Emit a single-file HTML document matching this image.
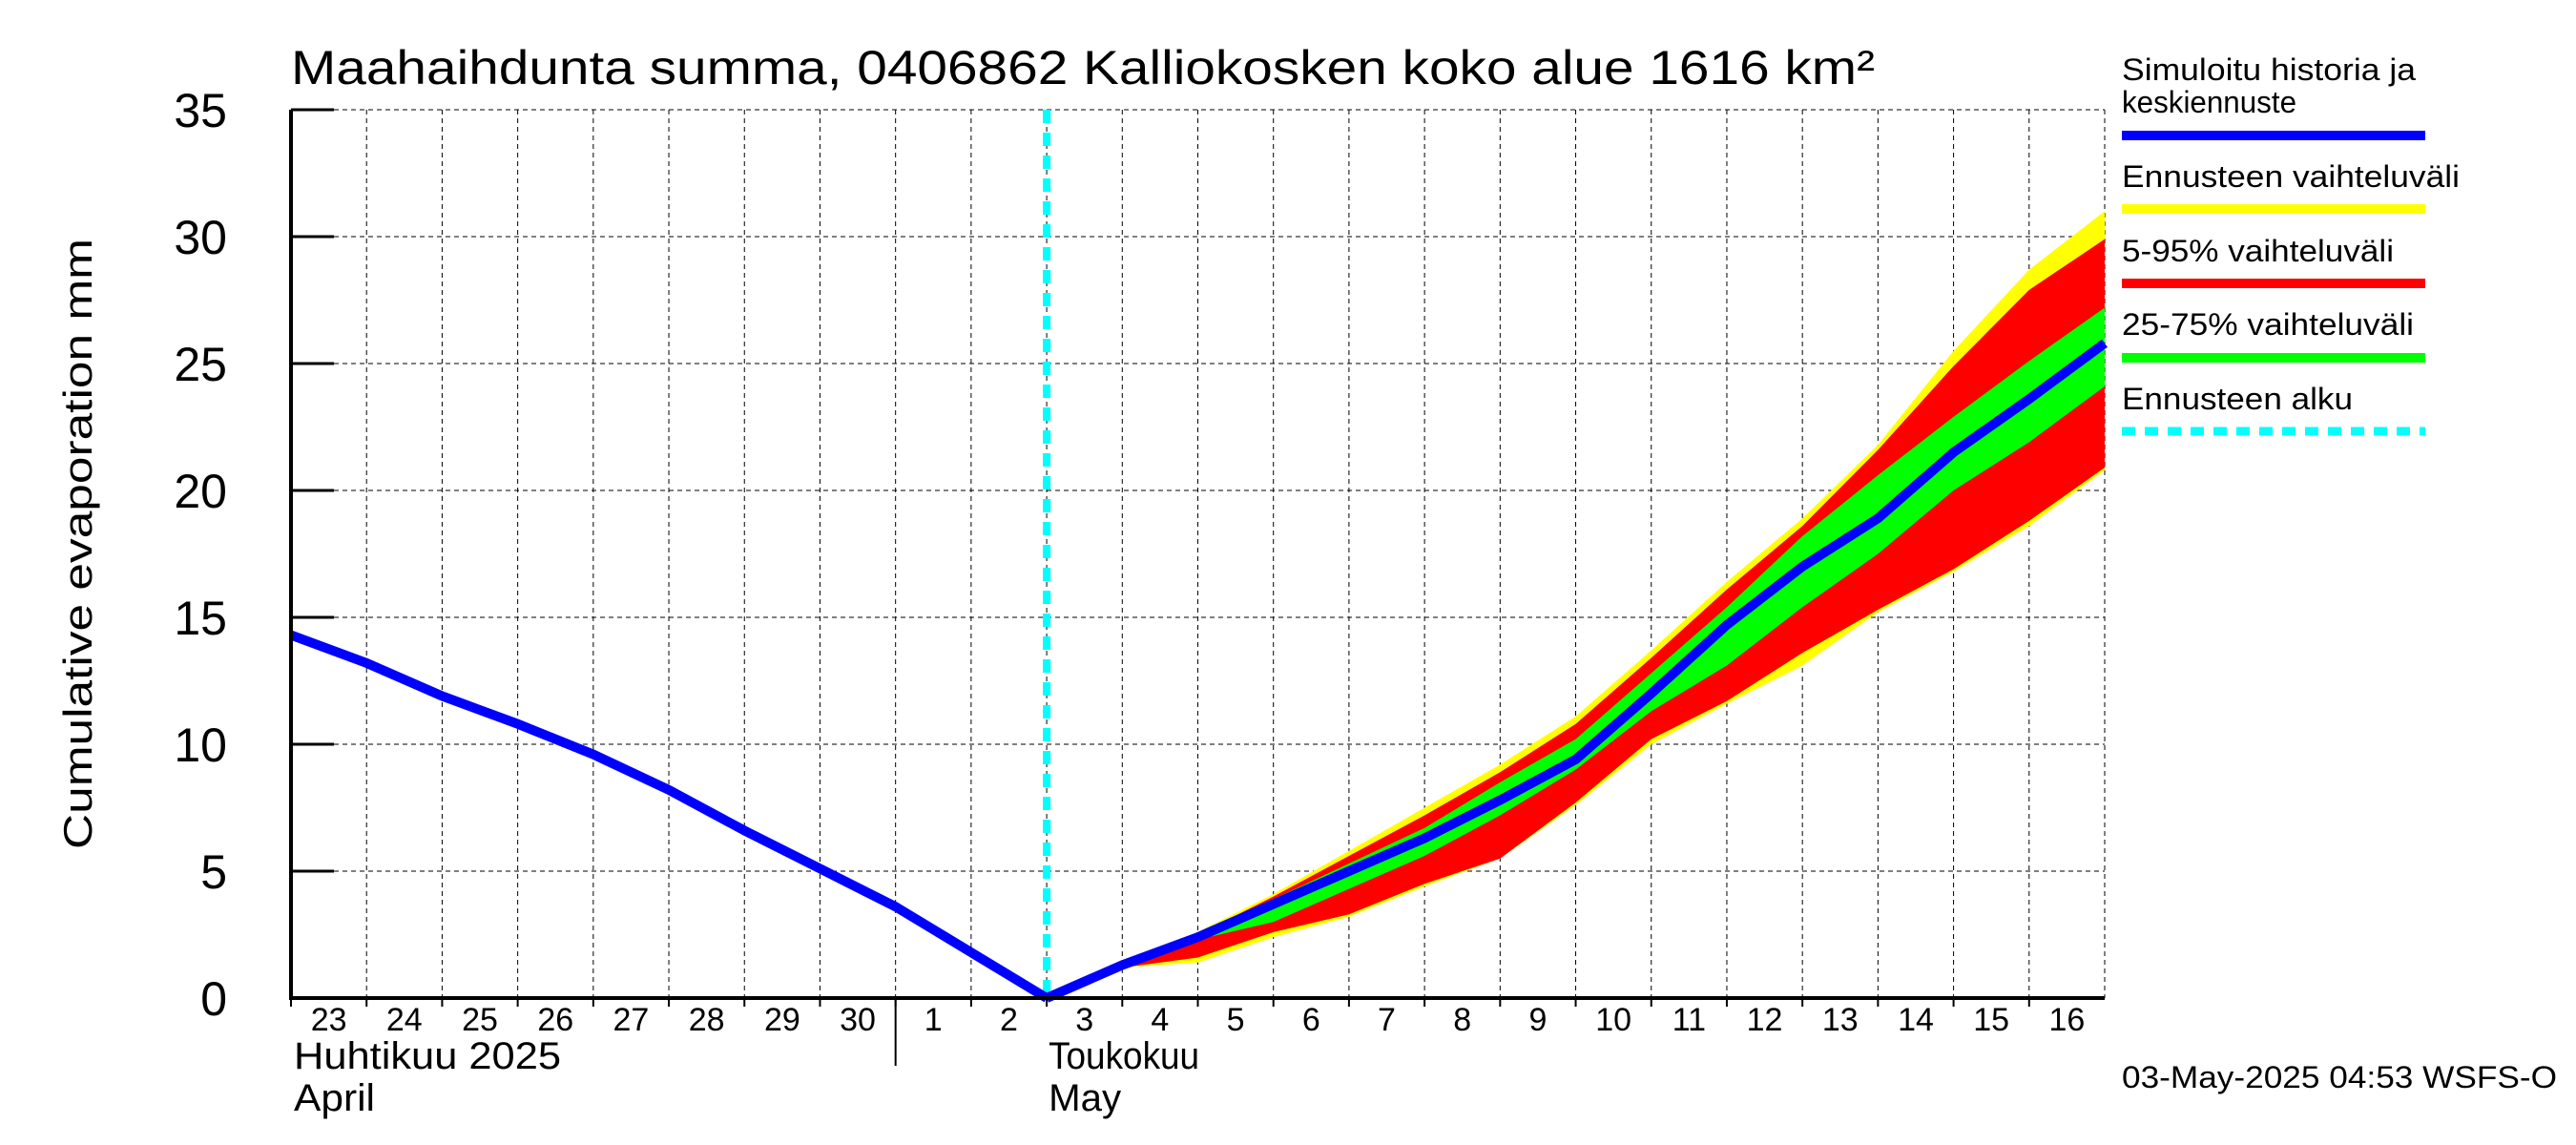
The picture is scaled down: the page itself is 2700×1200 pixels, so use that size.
<!DOCTYPE html>
<html><head><meta charset="utf-8"><style>html,body{margin:0;padding:0;background:#fff}svg{display:block}text{font-family:"Liberation Sans",sans-serif}</style></head>
<body>
<svg id="chart" width="2700" height="1200" viewBox="0 0 2700 1200" xmlns="http://www.w3.org/2000/svg">
<rect width="2700" height="1200" fill="#fff"/>
<text x="305" y="88" font-size="50" textLength="1660" lengthAdjust="spacingAndGlyphs">Maahaihdunta summa, 0406862 Kalliokosken koko alue 1616 km²</text>
<text transform="translate(96,570) rotate(-90)" text-anchor="middle" font-size="42" textLength="640" lengthAdjust="spacingAndGlyphs">Cumulative evaporation   mm</text>
<g id="grid"></g><g id="bands"></g><g id="lines"></g><g id="axes"></g>
<g font-size="32">
<text x="2224" y="84" textLength="308" lengthAdjust="spacingAndGlyphs">Simuloitu historia ja</text>
<text x="2224" y="118" textLength="183" lengthAdjust="spacingAndGlyphs">keskiennuste</text>
<rect x="2224" y="137" width="318" height="10" fill="#0000ff"/>
<text x="2224" y="196" textLength="354" lengthAdjust="spacingAndGlyphs">Ennusteen vaihteluväli</text>
<rect x="2224" y="214" width="318" height="10" fill="#ffff00"/>
<text x="2224" y="274" textLength="285" lengthAdjust="spacingAndGlyphs">5-95% vaihteluväli</text>
<rect x="2224" y="292" width="318" height="10" fill="#ff0000"/>
<text x="2224" y="351" textLength="306" lengthAdjust="spacingAndGlyphs">25-75% vaihteluväli</text>
<rect x="2224" y="370" width="318" height="10" fill="#00ff00"/>
<text x="2224" y="429" textLength="242" lengthAdjust="spacingAndGlyphs">Ennusteen alku</text>
<line x1="2224" y1="452" x2="2542" y2="452" stroke="#00ffff" stroke-width="9" stroke-dasharray="14,10"/>
</g>
<text x="2224" y="1140" font-size="32" textLength="456" lengthAdjust="spacingAndGlyphs">03-May-2025 04:53 WSFS-O</text>
</svg>
<script>
const histDays=[0,1,2,3,4,5,6,7,8,9,10];
const histVals=[14.3,13.2,11.9,10.8,9.6,8.2,6.6,5.1,3.6,1.8,0];
const fcDays=[10,11,12,13,14,15,16,17,18,19,20,21,22,23,24];
const fcMedian=[0,1.3,2.4,3.7,5.0,6.3,7.8,9.4,12.0,14.7,17.0,18.9,21.5,23.6,25.8];
const yellowHi=[0,1.3,2.6,4.1,5.8,7.5,9.2,11.1,13.7,16.4,18.9,21.8,25.5,28.7,31.0];
const yellowLo=[0,1.2,1.4,2.4,3.2,4.4,5.5,7.6,10.0,11.6,13.1,15.2,16.8,18.6,20.8];
const redHi=[0,1.3,2.5,4.0,5.6,7.2,8.9,10.8,13.4,16.1,18.6,21.6,24.9,27.9,29.9];
const redLo=[0,1.2,1.6,2.6,3.3,4.5,5.5,7.7,10.2,11.7,13.6,15.3,16.9,18.8,20.9];
const greenHi=[0,1.3,2.45,3.9,5.3,6.7,8.5,10.2,12.8,15.4,18.2,20.6,22.9,25.1,27.2];
const greenLo=[0,1.3,2.3,3.0,4.3,5.6,7.2,9.0,11.3,13.1,15.4,17.5,20.0,21.9,24.1];
const yTicks=[0,5,10,15,20,25,30,35];
const dayLabels=["23","24","25","26","27","28","29","30","1","2","3","4","5","6","7","8","9","10","11","12","13","14","15","16"];
const forecastStartDay=10;
const X0=305,X1=2206,NDAYS=24,Y0=1046,Y1=115,YMAX=35;
const xs=d=>X0+(X1-X0)*d/NDAYS;
const ys=v=>Y0-(Y0-Y1)*v/YMAX;
const NS="http://www.w3.org/2000/svg";
function mk(tag,attrs,parent){const e=document.createElementNS(NS,tag);for(const k in attrs)e.setAttribute(k,attrs[k]);parent.appendChild(e);return e;}
const grid=document.getElementById('grid'),bands=document.getElementById('bands'),lines=document.getElementById('lines'),axes=document.getElementById('axes');
for(let d=1;d<=NDAYS;d++){const l=mk('line',{x1:xs(d),y1:Y1,x2:xs(d),y2:Y0,stroke:'#000','stroke-width':1,'stroke-dasharray':'5,4'},grid);

}
yTicks.forEach(v=>{if(v>0){const l=mk('line',{x1:X0,y1:ys(v),x2:X1,y2:ys(v),stroke:'#000','stroke-width':1,'stroke-dasharray':'5,4'},grid);

}
const t=mk('line',{x1:X0,y1:ys(v),x2:X0+45,y2:ys(v),stroke:'#000','stroke-width':3},axes);


const lb=mk('text',{x:238,y:ys(v)+18,'text-anchor':'end','font-size':50},axes);lb.textContent=v;

});
function band(hi,lo,color,name){let p=fcDays.map((d,i)=>xs(d)+','+ys(hi[i]));for(let i=fcDays.length-1;i>=0;i--)p.push(xs(fcDays[i])+','+ys(lo[i]));
const e=mk('polygon',{points:p.join(' '),fill:color},bands);

}
band(yellowHi,yellowLo,'#ffff00','band-forecast-range');
band(redHi,redLo,'#ff0000','band-5-95');
band(greenHi,greenLo,'#00ff00','band-25-75');
const cy=mk('line',{x1:xs(forecastStartDay),y1:Y1,x2:xs(forecastStartDay),y2:Y0,stroke:'#00ffff','stroke-width':8,'stroke-dasharray':'14,10'},lines);


const h=mk('polyline',{points:histDays.map((d,i)=>xs(d)+','+ys(histVals[i])).join(' '),fill:'none',stroke:'#0000ff','stroke-width':10,'stroke-linejoin':'miter'},lines);


const m=mk('polyline',{points:fcDays.map((d,i)=>xs(d)+','+ys(fcMedian[i])).join(' '),fill:'none',stroke:'#0000ff','stroke-width':10},lines);


const ax=mk('path',{d:`M${X0},${Y1} L${X0},${Y0} L${X1},${Y0}`,fill:'none',stroke:'#000','stroke-width':4},axes);


dayLabels.forEach((s,i)=>{const tk=mk('line',{x1:xs(i),y1:Y0,x2:xs(i),y2:Y0+9,stroke:'#000','stroke-width':2},axes);


const t=mk('text',{x:xs(i)+(xs(1)-xs(0))/2,y:1080,'text-anchor':'middle','font-size':34},axes);t.textContent=s;

});
const sep=mk('line',{x1:xs(8),y1:Y0,x2:xs(8),y2:1117,stroke:'#000','stroke-width':2},axes);


[[X0+3,1120,'Huhtikuu  2025',280,'month-label-april-fi'],[X0+3,1164,'April',85,'month-label-april-en'],[xs(8)+melt(),1120,'Toukokuu',158,'month-label-may-fi'],[xs(8)+melt(),1164,'May',76,'month-label-may-en']].forEach(a=>{const t=mk('text',{x:a[0],y:a[1],'font-size':40,textLength:a[3],lengthAdjust:'spacingAndGlyphs'},axes);t.textContent=a[2];

});
function melt(){return (xs(1)-xs(0))*2+2;}
</script>
</body></html>
